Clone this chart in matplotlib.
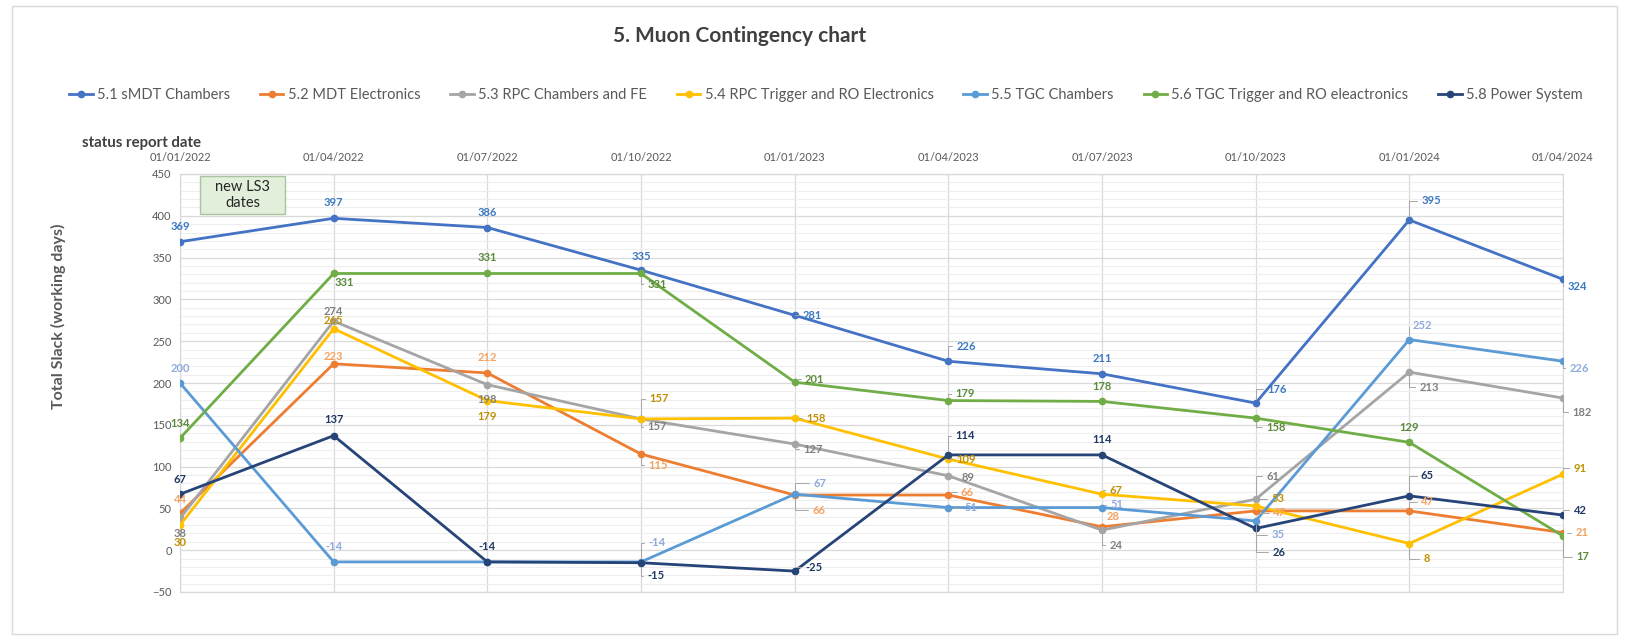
import matplotlib
matplotlib.use("Agg")
import matplotlib.pyplot as plt
from matplotlib.ticker import MultipleLocator
from matplotlib.patches import Rectangle

# ---------------- data ----------------
dates = ["01/01/2022", "01/04/2022", "01/07/2022", "01/10/2022", "01/01/2023",
         "01/04/2023", "01/07/2023", "01/10/2023", "01/01/2024", "01/04/2024"]

smdt_chambers = [369, 397, 386, 335, 281, 226, 211, 176, 395, 324]
mdt_electronics = [44, 223, 212, 115, 66, 66, 28, 47, 47, 21]
rpc_chambers = [38, 274, 198, 157, 127, 89, 24, 61, 213, 182]
rpc_trigger = [30, 265, 179, 157, 158, 109, 67, 53, 8, 91]
tgc_chambers = [200, -14, -14, -14, 67, 51, 51, 35, 252, 226]
tgc_trigger = [134, 331, 331, 331, 201, 179, 178, 158, 129, 17]
power_system = [67, 137, -14, -15, -25, 114, 114, 26, 65, 42]

series_names = ["5.1 sMDT Chambers", "5.2 MDT Electronics", "5.3 RPC Chambers and FE",
                "5.4 RPC Trigger and RO Electronics", "5.5 TGC Chambers",
                "5.6 TGC Trigger and RO eleactronics", "5.8 Power System"]
series_values = [smdt_chambers, mdt_electronics, rpc_chambers, rpc_trigger,
                 tgc_chambers, tgc_trigger, power_system]

# ---------------- style ----------------
line_colors = ["#4472C4", "#ED7D31", "#A5A5A5", "#FFC000", "#5B9BD5", "#70AD47", "#264478"]
label_colors = ["#3B78C3", "#F4A261", "#808080", "#C09000", "#8FAADC", "#5A8A3A", "#1F3864"]

# label offsets in pixels (dx, dy), None = no label shown
label_offsets = [
    [(0, 15), (0, 16), (0, 15), (0, 14), (18, 0), (18, 15), (0, 15), (21, 14), (22, 19), (14, -7)],
    [(0, 14), (0, 7), (0, 15), (17, -11), (24, -15), (19, 3), (11, 10), (24, -2), (18, 9), (19, 0)],
    [(0, -15), (0, 10), (0, -15), (16, -8), (18, -5), (20, -2), (14, -15), (17, 23), (20, -15), (19, -14)],
    [(0, -17), (0, 8), (0, -16), (18, 20), (21, 0), (18, 0), (14, 4), (22, 7), (17, -15), (17, 6)],
    [(0, 15), (0, 15), None, (16, 19), (25, 11), (23, 0), (15, 3), (22, -14), (13, 14), (16, -7)],
    [(0, 15), (11, -9), (0, 16), (16, -11), (20, 3), (17, 7), (0, 15), (20, -9), (0, 15), (20, -21)],
    [(0, 15), (0, 16), (0, 15), (15, -13), (19, 4), (17, 19), (0, 15), (23, -24), (18, 20), (17, 5)],
]

narrow = ["Liberation Sans Narrow", "Lato", "DejaVu Sans"]
plt.rcParams["font.family"] = ["Lato", "DejaVu Sans"]

W, H = 1625, 638
fig = plt.figure(figsize=(W / 100, H / 100), dpi=100)
fig.patch.set_facecolor("white")

# outer chart frame
fig.add_artist(Rectangle((12 / W, 4 / H), (W - 20) / W, (H - 10) / H,
                         transform=fig.transFigure, fill=False,
                         edgecolor="#d9d9d9", lw=1.0))

left, right, top, bottom = 180, 1563, 174, 592
ax = fig.add_axes([left / W, 1 - bottom / H, (right - left) / W, (bottom - top) / H])

x = list(range(len(dates)))
for name, vals, lc in zip(series_names, series_values, line_colors):
    ax.plot(x, vals, color=lc, lw=2.0, marker="o", markersize=4.5, label=name,
            solid_joinstyle="round", zorder=3)

for vals, offs, tc in zip(series_values, label_offsets, label_colors):
    for xi, v, off in zip(x, vals, offs):
        if off is None:
            continue
        dx, dy = off
        lead = dx >= 13
        ax.annotate(str(v), xy=(xi, v), xytext=(dx, dy), textcoords="offset pixels",
                    ha="center", va="center", fontsize=8, fontweight="bold",
                    color=tc, zorder=5,
                    arrowprops=(dict(arrowstyle="-", color="#a6a6a6", lw=0.7,
                                     shrinkA=1, shrinkB=3,
                                     connectionstyle="angle,angleA=0,angleB=90,rad=0")
                                if lead else None))

ax.set_xlim(0, len(dates) - 1)
ax.set_ylim(-50, 450)
ax.yaxis.set_major_locator(MultipleLocator(50))
ax.yaxis.set_minor_locator(MultipleLocator(10))
ax.set_xticks(x)
ax.set_xticklabels(dates, family=narrow, fontsize=8, color="#595959")
ax.xaxis.tick_top()
ax.tick_params(axis="x", length=0, pad=8)
ax.tick_params(axis="y", which="both", length=0, pad=6, labelsize=8, labelcolor="#595959")
for lab in ax.get_yticklabels():
    lab.set_family(narrow)

ax.grid(True, which="major", axis="both", color="#d9d9d9", lw=0.9, zorder=0)
ax.grid(True, which="minor", axis="y", color="#eeeeee", lw=0.8, zorder=0)
ax.set_axisbelow(True)
for s in ax.spines.values():
    s.set_color("#d9d9d9")
    s.set_linewidth(0.9)

# axis titles
fig.text(82 / W, 1 - 143 / H, "status report date", ha="left", va="center",
         fontsize=10.8, fontweight="bold", color="#404040", family=narrow)
fig.text(58 / W, 1 - 316 / H, "Total Slack (working days)", ha="center", va="center",
         rotation=90, fontsize=11.5, fontweight="bold", color="#595959")

# title
fig.text(740 / W, 1 - 36 / H, "5. Muon Contingency chart", ha="center", va="center",
         fontsize=15, fontweight="bold", color="#404040")

# note box
fig.add_artist(Rectangle((200 / W, 1 - 214 / H), 85 / W, 38 / H, transform=fig.transFigure,
                         facecolor="#E2EFDA", edgecolor="#A9C5A0", lw=1.0, zorder=4))
fig.text(242.5 / W, 1 - 195 / H, "new LS3\ndates", ha="center", va="center",
         fontsize=10.5, color="#262626", linespacing=1.25, zorder=5)

# legend
leg = fig.legend(loc="center", bbox_to_anchor=(826 / W, 1 - 95 / H), ncol=7, frameon=False,
                 prop={"family": narrow, "size": 10.5}, handlelength=1.6, handletextpad=0.3,
                 columnspacing=2.05, labelcolor="#595959")

fig.savefig("out.png", dpi=100, facecolor="white")
